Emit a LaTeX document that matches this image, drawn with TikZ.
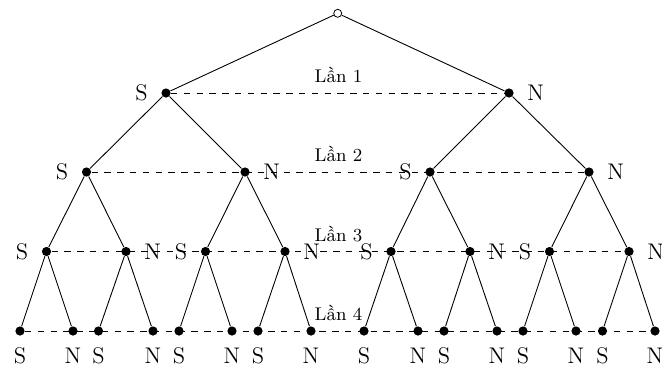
\documentclass[tikz,border=0pt]{standalone}
\usepackage{fontspec}
\begin{document}
\begin{tikzpicture}[x=0.5pt,y=-0.5pt,
  dot/.style={circle,fill=black,inner sep=0pt,minimum size=4.6pt},
  rootdot/.style={circle,draw=black,fill=white,line width=0.4pt,inner sep=0pt,minimum size=4pt},
  branch/.style={line width=0.45pt},
  levelline/.style={line width=0.45pt,dash pattern=on 3.2pt off 3.2pt},
  side/.style={font=\fontsize{11.3}{13}\selectfont,inner sep=0pt},
  roundlabel/.style={font=\fontsize{9.2}{11}\selectfont,inner sep=0pt,anchor=base},
]
\useasboundingbox (0,0) rectangle (662,371);

% root and the four levels of the tree
\node[rootdot] (r) at (337.7,13.3) {};
\node[dot] (a1) at (166,93) {};
\node[dot] (a2) at (509,93) {};
\foreach \i/\x in {1/86.5,2/245,3/430,4/589}
  \node[dot] (b\i) at (\x,172) {};
\foreach \i/\x in {1/46.5,2/126,3/205.5,4/285,5/391,6/470,7/549.5,8/629}
  \node[dot] (c\i) at (\x,251.5) {};
\foreach \i/\x in {1/20,2/73,3/98.5,4/153,5/179,6/232,7/258,8/311,
                   9/364,10/418,11/444,12/497,13/523,14/576,15/602.5,16/655}
  \node[dot] (d\i) at (\x,331) {};

% dashed lines joining each level
\draw[levelline] (a1) -- (a2);
\draw[levelline] (b1) -- (b4);
\draw[levelline] (c1) -- (c8);
\draw[levelline] (d1) -- (d16);

% branches
\draw[branch] (r) -- (a1);
\draw[branch] (r) -- (a2);
\draw[branch] (a1) -- (b1);
\draw[branch] (a1) -- (b2);
\draw[branch] (a2) -- (b3);
\draw[branch] (a2) -- (b4);
\foreach \p/\l/\rr in {1/1/2,2/3/4,3/5/6,4/7/8}{
  \draw[branch] (b\p) -- (c\l);
  \draw[branch] (b\p) -- (c\rr);
}
\foreach \p/\l/\rr in {1/1/2,2/3/4,3/5/6,4/7/8,5/9/10,6/11/12,7/13/14,8/15/16}{
  \draw[branch] (c\p) -- (d\l);
  \draw[branch] (c\p) -- (d\rr);
}

% S / N beside the nodes
\node[side,anchor=east] (sa1) at ([xshift=-9pt]a1.center) {S};
\node[side,anchor=west] (sa2) at ([xshift=9pt]a2.center) {N};
\foreach \i in {1,3}
  \node[side,anchor=east] (sb\i) at ([xshift=-9pt]b\i.center) {S};
\foreach \i in {2,4}
  \node[side,anchor=west] (sb\i) at ([xshift=9pt]b\i.center) {N};
\foreach \i in {1,3,5,7}
  \node[side,anchor=east] (sc\i) at ([xshift=-9pt]c\i.center) {S};
\foreach \i in {2,4,6,8}
  \node[side,anchor=west] (sc\i) at ([xshift=9pt]c\i.center) {N};
\foreach \i in {1,3,5,7,9,11,13,15}
  \node[side,anchor=base] (sd\i) at ([yshift=-16pt]d\i.center) {S};
\foreach \i in {2,4,6,8,10,12,14,16}
  \node[side,anchor=base] (sd\i) at ([yshift=-16pt]d\i.center) {N};

% round labels
\node[roundlabel] (lan1) at (338.5,82.7) {Lần 1};
\node[roundlabel] (lan2) at (338.5,161.7) {Lần 2};
\node[roundlabel] (lan3) at (338.5,241.2) {Lần 3};
\node[roundlabel] (lan4) at (338.5,320.5) {Lần 4};
\end{tikzpicture}
\end{document}
